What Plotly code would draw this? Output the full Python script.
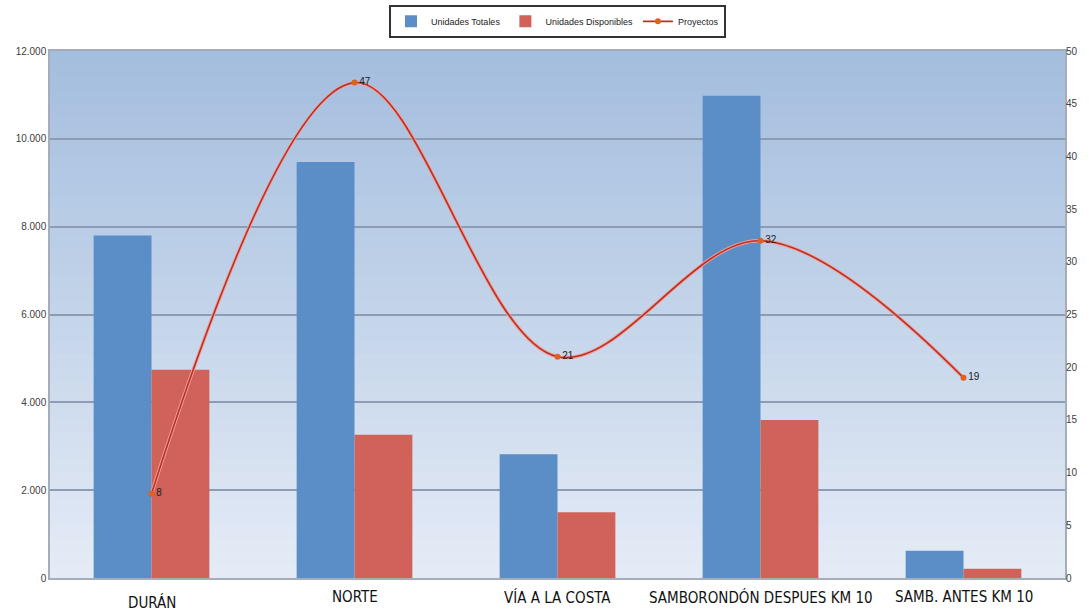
import plotly.graph_objects as go

# Data
categorias = ["DURÁN", "NORTE", "VÍA A LA COSTA", "SAMBORONDÓN DESPUES KM 10", "SAMB. ANTES KM 10"]
unidades_totales = [7800, 9470, 2820, 10980, 620]
unidades_disponibles = [4740, 3260, 1500, 3600, 210]
proyectos = [8, 47, 21, 32, 19]

left_ticks = [0, 2000, 4000, 6000, 8000, 10000, 12000]
right_ticks = [0, 5, 10, 15, 20, 25, 30, 35, 40, 45, 50]

fig = go.Figure()

fig.add_trace(go.Bar(
    x=categorias, y=unidades_totales, name="Unidades Totales",
    marker=dict(color="#5b8ec7", line=dict(width=0)),
))
fig.add_trace(go.Bar(
    x=categorias, y=unidades_disponibles, name="Unidades Disponibles",
    marker=dict(color="#d0625a", line=dict(width=0)),
))

# soft halo under the project line
fig.add_trace(go.Scatter(
    x=categorias, y=proyectos, yaxis="y2", mode="lines",
    line=dict(color="#f2a095", width=3.5, shape="spline", smoothing=1.0),
    showlegend=False, hoverinfo="skip",
))
fig.add_trace(go.Scatter(
    x=categorias, y=proyectos, yaxis="y2", name="Proyectos",
    mode="lines+markers+text",
    line=dict(color="#b8302a", width=1.6, shape="spline", smoothing=1.0),
    marker=dict(color="#e0601e", size=6),
    text=[str(v) for v in proyectos], textposition="middle right",
    textfont=dict(family="Liberation Sans, Arial, sans-serif", size=10, color="#222222"),
))

# vertical gradient behind the plot area
shapes = []
n_bands = 40
top = (164, 190, 222)
bottom = (228, 235, 246)
for i in range(n_bands):
    t = i / (n_bands - 1)
    c = tuple(round(bottom[k] + (top[k] - bottom[k]) * t) for k in range(3))
    shapes.append(dict(
        type="rect", xref="paper", yref="paper",
        x0=0, x1=1, y0=i / n_bands, y1=min(1, (i + 1.6) / n_bands),
        fillcolor="rgb(%d,%d,%d)" % c, line=dict(width=0), layer="below",
    ))

# category labels drawn under the axis
annotations = []
for name in categorias:
    annotations.append(dict(
        x=name, y=0, xref="x", yref="paper", text=name, showarrow=False,
        yanchor="top", yshift=-8 if name != "DURÁN" else -13,
        font=dict(family="Liberation Sans Narrow, DejaVu Sans Condensed, Arial Narrow, sans-serif",
                  size=15, color="#111111"),
    ))

fig.update_layout(
    width=1089, height=613,
    margin=dict(l=50, r=24, t=51, b=35, autoexpand=False),
    paper_bgcolor="white",
    plot_bgcolor="rgba(0,0,0,0)",
    separators=",.",
    barmode="group",
    bargap=0.43,
    bargroupgap=0,
    shapes=shapes,
    annotations=annotations,
    font=dict(family="Liberation Sans, Arial, sans-serif", color="#404040"),
    legend=dict(
        orientation="h", x=0.5, xanchor="center", y=1.025, yanchor="bottom",
        bgcolor="white", bordercolor="#333333", borderwidth=2,
        font=dict(size=9, color="#222222"),
        itemwidth=30,
    ),
    xaxis=dict(
        showticklabels=False,
        showline=True, linecolor="#a6adb8", linewidth=1.5, mirror=True,
        ticks="", automargin=False,
    ),
    yaxis=dict(
        range=[0, 12000], tickvals=left_ticks, tickformat=",d",
        tickfont=dict(size=10, color="#404040"),
        showgrid=True, gridcolor="#8d9cb3", gridwidth=1.5,
        showline=True, linecolor="#a6adb8", linewidth=1.5, mirror=True,
        zeroline=False, ticks="", automargin=False,
    ),
    yaxis2=dict(
        range=[0, 50], tickvals=right_ticks, overlaying="y", side="right",
        tickfont=dict(size=10, color="#404040"),
        showgrid=False, zeroline=False, ticks="", automargin=False,
    ),
)

fig.write_html("out.html")
